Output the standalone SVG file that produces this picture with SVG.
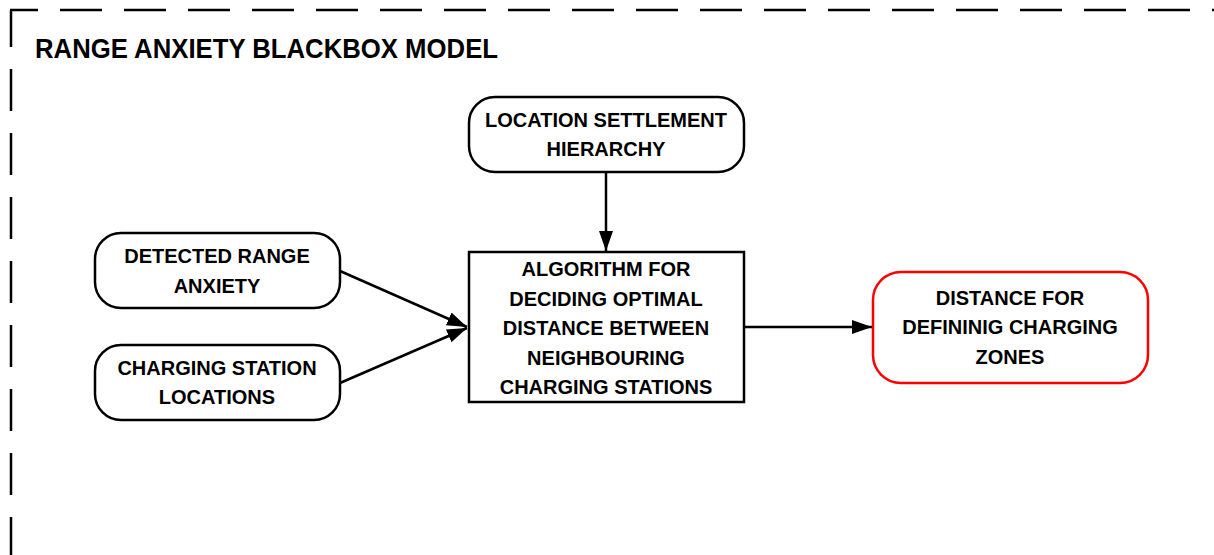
<svg xmlns="http://www.w3.org/2000/svg" width="1214" height="555" viewBox="0 0 1214 555">
<style>
.t{font-family:"Liberation Sans",Arial,sans-serif;font-weight:bold;font-size:20px;fill:#000;text-anchor:middle}
.b{fill:#fff;stroke:#000;stroke-width:2.5}
.r{fill:#fff;stroke:#ff0000;stroke-width:2.5}
.c{fill:none;stroke:#000;stroke-width:2.5}
.d{fill:none;stroke:#000;stroke-width:2.5;stroke-dasharray:42 22}
</style>
<defs>
<marker id="ah" markerUnits="userSpaceOnUse" markerWidth="22" markerHeight="16" refX="20" refY="7" orient="auto">
<path d="M0,0 L20,7 L0,14 Z" fill="#000"/>
</marker>
</defs>
<g id="frame">
<path class="d" d="M11,10 V555" stroke-dashoffset="5"/>
<path class="d" d="M10,10 H1214" stroke-dashoffset="14"/>
<text x="35" y="58" style="font-family:'Liberation Sans',Arial,sans-serif;font-weight:bold;font-size:27px" textLength="463" lengthAdjust="spacingAndGlyphs">RANGE ANXIETY BLACKBOX MODEL</text>
</g>
<g id="connectors">
<path class="c" d="M606,172 V251" marker-end="url(#ah)"/>
<path class="c" d="M340,271 L467,327" marker-end="url(#ah)"/>
<path class="c" d="M340,383 L467,328" marker-end="url(#ah)"/>
<path class="c" d="M744,327 H872" marker-end="url(#ah)"/>
</g>
<g id="hierarchy">
<rect class="b" x="469" y="97" width="275" height="75" rx="26"/>
<text class="t" x="606" y="127">LOCATION SETTLEMENT</text>
<text class="t" x="606" y="156">HIERARCHY</text>
</g>
<g id="range">
<rect class="b" x="95" y="233" width="245" height="75" rx="26"/>
<text class="t" x="217" y="263">DETECTED RANGE</text>
<text class="t" x="217" y="293">ANXIETY</text>
</g>
<g id="stations">
<rect class="b" x="95" y="345" width="245" height="75" rx="26"/>
<text class="t" x="217" y="375">CHARGING STATION</text>
<text class="t" x="217" y="404">LOCATIONS</text>
</g>
<g id="algorithm">
<rect class="b" x="469" y="252" width="275" height="150"/>
<text class="t" x="606" y="276">ALGORITHM FOR</text>
<text class="t" x="606" y="305.5">DECIDING OPTIMAL</text>
<text class="t" x="606" y="335">DISTANCE BETWEEN</text>
<text class="t" x="606" y="364.5">NEIGHBOURING</text>
<text class="t" x="606" y="394">CHARGING STATIONS</text>
</g>
<g id="distance">
<rect class="r" x="873" y="272" width="275" height="111" rx="28"/>
<text class="t" x="1010" y="305">DISTANCE FOR</text>
<text class="t" x="1010" y="334">DEFININIG CHARGING</text>
<text class="t" x="1010" y="364">ZONES</text>
</g>
</svg>
